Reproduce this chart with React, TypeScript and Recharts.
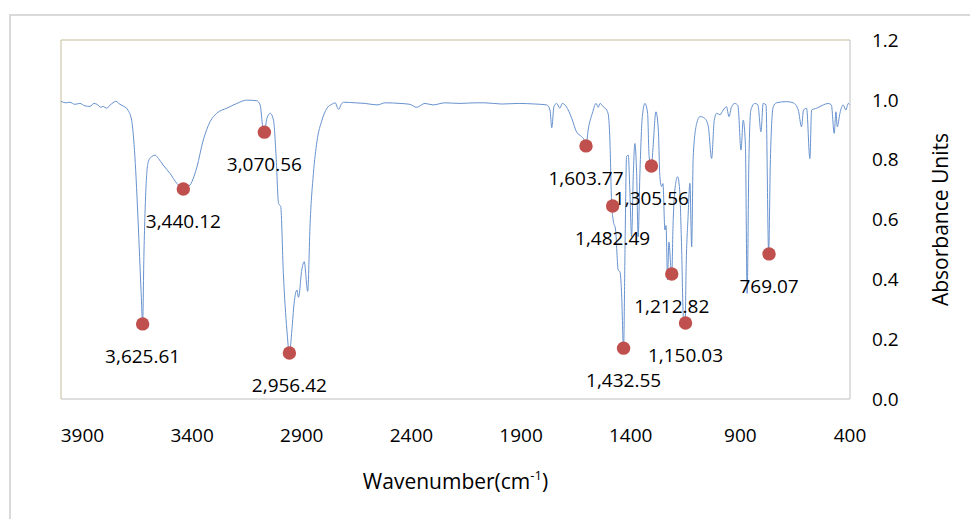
import React from 'react';
import { ComposedChart, Line, Scatter, XAxis, YAxis, ReferenceLine, Label } from 'recharts';

const wavenumbers = [
  3998, 3976, 3958, 3935, 3912, 3889, 3866, 3848, 3834, 3816, 3807, 3789, 3775, 3761, 3748, 3729, 3711, 3693,
  3676, 3661, 3646, 3633, 3625.61, 3620, 3611, 3600, 3585, 3569, 3554, 3532, 3501, 3470, 3440, 3410, 3391, 3378,
  3349, 3318, 3288, 3242, 3196, 3151, 3105, 3090, 3078, 3070.56, 3059, 3044, 3029, 3017, 3006, 2996, 2984, 2968,
  2956.42, 2945, 2935, 2922, 2915, 2900, 2889, 2873, 2862, 2847, 2831, 2808, 2785, 2763, 2748, 2732, 2720, 2710,
  2656, 2611, 2557, 2519, 2452, 2407, 2377, 2338, 2302, 2247, 2179, 2110, 2065, 1988, 1913, 1836, 1783, 1768,
  1760, 1750, 1738, 1723, 1712, 1700, 1685, 1669, 1647, 1624, 1612, 1603.77, 1594, 1575, 1558, 1548, 1540, 1525,
  1510, 1502, 1495, 1487, 1480, 1469, 1457, 1449, 1442, 1432.55, 1426, 1419, 1411, 1404, 1396, 1388, 1381, 1373,
  1366, 1358, 1347, 1335, 1323, 1316, 1305.56, 1299, 1285, 1274, 1267, 1259, 1253, 1244, 1239, 1232, 1226, 1213,
  1207, 1195, 1186, 1177, 1168, 1160, 1152, 1147, 1139, 1130, 1122, 1115, 1099, 1084, 1062, 1046, 1031, 1019,
  1008, 993, 978, 963, 952, 940, 925, 911, 897, 887, 877, 869, 861, 852, 834, 820, 806, 796, 783, 771, 763, 750,
  735, 689, 659, 636, 621, 612, 598, 583, 575, 552, 522, 499, 485, 472, 464, 458, 446, 431, 419, 408, 400,
];

const absorbance = [
  0.995, 0.99, 0.992, 0.985, 0.988, 0.98, 0.978, 0.988, 0.985, 0.975, 0.978, 0.972, 0.982, 0.99, 0.995, 0.985, 0.978, 0.966,
  0.932, 0.81, 0.588, 0.364, 0.253, 0.476, 0.699, 0.793, 0.81, 0.815, 0.804, 0.782, 0.754, 0.721, 0.704, 0.715, 0.745, 0.776,
  0.866, 0.927, 0.955, 0.972, 0.988, 0.999, 0.997, 0.983, 0.91, 0.893, 0.938, 0.955, 0.932, 0.81, 0.654, 0.643, 0.42, 0.231,
  0.153, 0.231, 0.32, 0.364, 0.34, 0.431, 0.459, 0.36, 0.587, 0.754, 0.86, 0.932, 0.972, 0.985, 0.99, 0.968, 0.985, 0.992,
  0.99, 0.988, 0.983, 0.99, 0.988, 0.985, 0.975, 0.988, 0.983, 0.99, 0.988, 0.99, 0.99, 0.986, 0.988, 0.986, 0.983, 0.966,
  0.907, 0.977, 0.988, 0.972, 0.988, 0.983, 0.966, 0.938, 0.893, 0.877, 0.866, 0.846, 0.899, 0.955, 0.988, 0.975, 0.988, 0.977,
  0.966, 0.95, 0.866, 0.654, 0.598, 0.565, 0.431, 0.425, 0.36, 0.165, 0.5, 0.81, 0.815, 0.699, 0.542, 0.754, 0.854, 0.754,
  0.542, 0.754, 0.944, 0.988, 0.955, 0.81, 0.776, 0.832, 0.96, 0.899, 0.743, 0.71, 0.72, 0.565, 0.58, 0.398, 0.525, 0.409,
  0.58, 0.721, 0.743, 0.7, 0.509, 0.275, 0.25, 0.45, 0.6, 0.721, 0.509, 0.81, 0.921, 0.944, 0.938, 0.91, 0.804, 0.932,
  0.955, 0.95, 0.966, 0.977, 0.944, 0.977, 0.988, 0.98, 0.832, 0.932, 0.85, 0.353, 0.8, 0.966, 0.988, 0.983, 0.893, 0.988, 0.983, 0.49, 0.8, 0.977,
  0.99, 0.994, 0.99, 0.966, 0.91, 0.966, 0.972, 0.804, 0.966, 0.972, 0.983, 0.988, 0.983, 0.888, 0.96, 0.91, 0.955, 0.983, 0.966, 0.988, 0.983,
];

const peakWavenumbers = [3625.61, 3440.12, 3070.56, 2956.42, 1603.77, 1482.49, 1432.55, 1305.56, 1212.82, 1150.03, 769.07];
const peakAbsorbance = [0.251, 0.702, 0.892, 0.154, 0.846, 0.645, 0.17, 0.779, 0.418, 0.254, 0.485];

const xTicks = [3900, 3400, 2900, 2400, 1900, 1400, 900, 400];
const yTicks = [0, 0.2, 0.4, 0.6, 0.8, 1.0, 1.2];
const xDomain = [400, 3998];
const yDomain = [0, 1.2];

const spectrum = wavenumbers.map((wn, i) => ({ wn, a: absorbance[i] }));
const peaks = peakWavenumbers.map((wn, i) => ({ wn, a: peakAbsorbance[i] }));

const FONT = "'Open Sans', sans-serif";

const fmt = (v: number) =>
  v.toLocaleString('en-US', { minimumFractionDigits: 2, maximumFractionDigits: 2 });

const MarkerShape = (props: any) => {
  const { cx, cy } = props;
  return <circle cx={cx} cy={cy} r={6.7} fill="#C0504D" />;
};

const LabelShape = (props: any) => {
  const { cx, cy, payload } = props;
  return (
    <text x={cx} y={cy + 32} dy="0.36em" textAnchor="middle" fontSize={19} fontFamily={FONT} fill="#000">
      {fmt(payload.wn)}
    </text>
  );
};

const XTitle = (props: any) => {
  const vb = props.viewBox || {};
  const x = vb.x + vb.width / 2;
  const y = vb.y + 90;
  return (
    <text x={x} y={y} textAnchor="middle" fontSize={21} fontFamily={FONT} fill="#000">
      Wavenumber(cm
      <tspan fontSize={13} dy={-9}>-1</tspan>
      <tspan dy={9}>)</tspan>
    </text>
  );
};

const YTitle = (props: any) => {
  const vb = props.viewBox || {};
  const x = vb.x + 90;
  const y = vb.y + vb.height / 2;
  return (
    <text
      x={x}
      y={y}
      textAnchor="middle"
      dy="0.36em"
      fontSize={21}
      fontFamily={FONT}
      fill="#000"
      transform={`rotate(-90, ${x}, ${y})`}
    >
      Absorbance Units
    </text>
  );
};

export default function App() {
  return (
    <div
      style={{
        position: 'fixed',
        left: 0,
        top: 0,
        width: 970,
        height: 519,
        overflow: 'hidden',
        background: '#fff',
        fontFamily: FONT,
      }}
    >
      <div
        style={{
          position: 'absolute',
          left: 9,
          top: 14,
          width: 1200,
          height: 800,
          border: '2px solid #d9d9d9',
          boxSizing: 'border-box',
        }}
      />
      <div style={{ position: 'absolute', left: 0, top: 0 }}>
        <ComposedChart
          width={970}
          height={519}
          margin={{ top: 40, right: 60, bottom: 60, left: 61 }}
          style={{ fontFamily: FONT }}
        >
          <XAxis
            dataKey="wn"
            type="number"
            domain={xDomain}
            allowDataOverflow
            reversed
            ticks={xTicks}
            interval={0}
            height={60}
            tickLine={false}
            tickSize={0}
            tickMargin={30}
            axisLine={{ stroke: '#bfbfbf', strokeWidth: 1 }}
            tick={{ fill: '#000', fontSize: 19, fontFamily: FONT }}
          >
            <Label content={<XTitle />} />
          </XAxis>
          <YAxis
            type="number"
            orientation="right"
            domain={yDomain}
            allowDataOverflow
            ticks={yTicks}
            interval={0}
            width={60}
            tickLine={false}
            tickSize={0}
            tickMargin={22}
            tickFormatter={(v: number) => v.toFixed(1)}
            axisLine={{ stroke: '#bfbfbf', strokeWidth: 1 }}
            tick={{ fill: '#000', fontSize: 19, fontFamily: FONT }}
          >
            <Label content={<YTitle />} />
          </YAxis>
          <ReferenceLine x={xDomain[1]} stroke="#c4bd97" strokeWidth={1} />
          <ReferenceLine y={yDomain[1]} stroke="#c4bd97" strokeWidth={1} />
          <Scatter data={peaks} dataKey="a" isAnimationActive={false} shape={<MarkerShape />} />
          <Line
            data={spectrum}
            dataKey="a"
            type="monotone"
            stroke="#6792cf"
            strokeWidth={1}
            dot={false}
            activeDot={false}
            isAnimationActive={false}
          />
          <Scatter data={peaks} dataKey="a" isAnimationActive={false} shape={<LabelShape />} />
        </ComposedChart>
      </div>
    </div>
  );
}
